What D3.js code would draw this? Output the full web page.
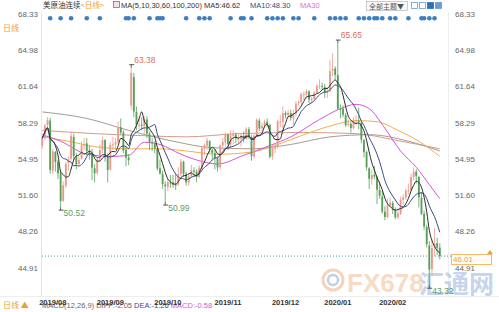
<!DOCTYPE html>
<html>
<head>
<meta charset="utf-8">
<script src="https://cdn.jsdelivr.net/npm/d3@7"></script>
<style>
  html, body { margin: 0; padding: 0; background: #fff; }
  svg { display: block; font-family: "Liberation Sans", Arial, "Noto Sans CJK SC", sans-serif; }
</style>
</head>
<body>
<div id="chart"></div>
<script>
// daily candles, 2019-07-29 .. 2020-03-05
const opens = [
  56.20, 56.90, 58.10, 58.50, 53.90, 55.60, 54.70, 53.70, 51.10, 52.50,
  54.60, 55.00, 57.00, 55.20, 54.50, 55.00, 56.20, 56.40, 55.70, 55.40,
  54.10, 53.70, 55.00, 55.80, 56.70, 55.20, 54.00, 56.30, 56.30, 56.50,
  57.90, 57.40, 55.80, 55.10, 59.90, 62.50, 59.30, 58.10, 58.10, 58.00,
  58.60, 57.30, 56.50, 56.40, 55.90, 54.10, 53.60, 52.60, 52.40, 52.80,
  52.80, 52.60, 52.60, 53.60, 54.70, 53.60, 52.80, 53.40, 53.90, 53.80,
  53.30, 54.10, 55.90, 56.20, 56.60, 55.80, 55.50, 55.00, 54.20, 56.20,
  56.50, 57.20, 56.30, 57.10, 57.20, 56.80, 56.80, 57.10, 56.80, 57.70,
  57.00, 55.20, 57.10, 58.50, 57.80, 58.00, 58.40, 58.10, 55.20, 55.90,
  56.10, 58.40, 58.40, 59.20, 59.00, 59.20, 58.70, 59.20, 60.10, 60.20,
  60.90, 60.90, 61.20, 60.40, 60.50, 61.10, 61.70, 61.70, 61.60, 61.10,
  61.20, 63.10, 63.30, 62.70, 59.60, 59.60, 59.00, 58.10, 58.20, 57.80,
  58.50, 58.50, 58.30, 56.70, 55.60, 54.10, 53.10, 53.50, 53.30, 52.10,
  51.50, 50.10, 49.60, 50.70, 50.90, 50.30, 49.60, 49.90, 51.20, 51.40,
  52.00, 52.10, 53.30, 53.80, 53.30, 51.40, 49.90, 48.70, 47.00, 44.80,
  46.80, 47.20, 46.80
];
const highs = [
  57.10, 58.20, 58.82, 58.76, 55.90, 55.70, 54.90, 54.00, 52.90, 54.70,
  55.20, 57.47, 57.30, 55.50, 55.20, 56.60, 56.90, 56.90, 56.20, 55.90,
  54.50, 55.10, 56.30, 57.00, 56.80, 55.50, 56.50, 57.00, 56.90, 58.40,
  58.70, 57.60, 56.20, 55.40, 63.38, 62.90, 59.80, 58.90, 58.80, 58.90,
  58.90, 57.50, 56.90, 56.60, 56.00, 54.90, 53.90, 52.90, 53.10, 53.50,
  53.50, 53.60, 54.20, 55.00, 54.80, 53.80, 53.60, 54.40, 54.20, 54.00,
  54.40, 56.10, 56.40, 56.90, 56.70, 55.90, 55.90, 55.20, 56.30, 56.90,
  57.40, 57.30, 57.60, 57.60, 57.40, 57.30, 57.30, 57.50, 57.90, 57.90,
  57.20, 57.30, 58.70, 58.70, 58.30, 58.60, 58.70, 58.20, 56.20, 56.40,
  58.60, 59.00, 59.80, 59.40, 59.50, 59.50, 59.50, 60.30, 60.40, 61.10,
  61.20, 61.40, 61.30, 60.70, 61.20, 61.90, 62.30, 62.00, 61.90, 61.60,
  64.09, 64.70, 63.50, 65.65, 60.00, 59.90, 59.20, 58.60, 58.40, 58.80,
  59.00, 59.70, 58.40, 56.80, 55.70, 54.20, 54.00, 54.30, 53.40, 52.90,
  52.00, 50.60, 51.30, 51.40, 51.10, 50.50, 50.30, 51.50, 51.70, 52.20,
  52.70, 53.60, 54.20, 54.00, 53.40, 51.90, 50.20, 48.90, 47.40, 47.50,
  48.60, 47.70, 47.20
];
const lows = [
  55.90, 56.70, 57.60, 53.60, 53.60, 53.80, 53.10, 50.52, 51.00, 52.30,
  53.90, 54.80, 54.90, 54.00, 54.30, 54.90, 55.80, 55.30, 54.90, 53.00,
  52.80, 53.50, 54.70, 55.50, 54.70, 52.80, 53.90, 55.80, 55.80, 56.30,
  57.20, 55.50, 54.30, 54.40, 59.50, 58.80, 57.60, 57.70, 57.60, 57.30,
  56.90, 55.80, 55.70, 55.50, 53.90, 53.50, 52.20, 50.99, 52.00, 52.30,
  52.30, 52.10, 52.50, 53.40, 53.30, 52.50, 52.50, 53.20, 53.40, 52.80,
  53.20, 54.00, 55.30, 55.80, 55.50, 54.90, 54.00, 53.80, 54.00, 56.00,
  56.10, 55.80, 55.90, 56.30, 56.40, 56.40, 56.10, 56.50, 56.70, 56.80,
  54.80, 55.00, 57.00, 57.50, 57.50, 57.80, 57.90, 55.00, 54.90, 55.50,
  55.90, 57.90, 57.80, 58.70, 58.70, 58.50, 58.10, 58.90, 59.80, 60.00,
  60.40, 60.60, 60.10, 60.10, 60.40, 61.00, 61.40, 61.40, 60.60, 60.60,
  61.10, 62.60, 62.30, 59.50, 58.70, 58.80, 57.90, 57.90, 57.40, 57.70,
  58.10, 57.70, 56.40, 55.10, 53.90, 52.20, 52.60, 53.10, 50.80, 51.30,
  49.90, 49.31, 49.50, 50.50, 49.90, 49.40, 49.40, 49.80, 50.70, 51.20,
  51.70, 52.00, 53.00, 52.70, 50.50, 49.80, 48.40, 46.80, 43.32, 44.20,
  46.00, 46.10, 45.70
];
const closes = [
  56.87, 58.05, 58.58, 53.95, 55.66, 54.69, 53.63, 51.09, 52.54, 54.50,
  54.93, 57.10, 55.23, 54.47, 54.87, 56.21, 56.34, 55.68, 55.35, 54.17,
  53.64, 54.93, 55.78, 56.71, 55.10, 53.94, 56.26, 56.30, 56.52, 57.85,
  57.40, 55.75, 55.09, 54.85, 62.90, 59.34, 58.11, 58.13, 58.09, 58.64,
  57.29, 56.49, 56.41, 55.91, 54.07, 53.62, 52.64, 52.45, 52.81, 52.75,
  52.63, 52.59, 53.55, 54.70, 53.59, 52.81, 53.36, 53.93, 53.78, 53.31,
  54.16, 55.97, 56.23, 56.66, 55.81, 55.54, 55.06, 54.18, 56.20, 56.54,
  57.23, 56.35, 57.15, 57.24, 56.86, 56.80, 57.12, 56.77, 57.72, 57.05,
  55.21, 57.11, 58.58, 57.77, 58.01, 58.41, 58.11, 55.17, 55.96, 56.10,
  58.43, 58.43, 59.20, 59.02, 59.24, 58.76, 59.18, 60.07, 60.21, 60.94,
  60.93, 61.22, 60.44, 60.52, 61.11, 61.68, 61.72, 61.68, 61.06, 61.18,
  63.05, 63.27, 62.70, 59.61, 59.56, 59.04, 58.08, 58.23, 57.81, 58.52,
  58.54, 58.38, 56.74, 55.59, 54.19, 53.14, 53.48, 53.33, 52.14, 51.56,
  50.11, 49.61, 50.75, 50.95, 50.32, 49.57, 49.94, 51.17, 51.42, 52.05,
  52.05, 53.29, 53.78, 53.38, 51.43, 49.90, 48.73, 47.09, 44.76, 46.75,
  47.18, 46.78, 46.01
];

// long moving averages (candle index, value)
const ma30Idx = [0, 7, 17, 26, 33, 39, 45, 53, 60, 67, 77, 87, 95, 106, 113, 120, 125, 131, 137, 143, 148, 152];
const ma30Val = [57.2, 56.6, 55.4, 55.2, 55.3, 56.5, 56.3, 55.4, 54.8, 54.5, 55.3, 56.2, 57.0, 58.6, 59.5, 60.0, 59.6, 57.8, 55.7, 54.2, 52.6, 51.3];
const ma60Idx = [0, 10, 20, 33, 45, 55, 67, 80, 90, 100, 110, 120, 128, 136, 144, 152];
const ma60Val = [57.0, 56.6, 56.1, 55.9, 55.9, 55.7, 55.4, 55.6, 56.3, 57.2, 58.0, 58.5, 58.4, 57.6, 56.6, 55.2];
const ma100Idx = [0, 17, 33, 50, 65, 80, 95, 110, 125, 140, 152];
const ma100Val = [59.3, 58.7, 57.6, 56.6, 56.0, 55.9, 56.3, 57.0, 57.2, 56.6, 55.7];
const ma200Idx = [0, 20, 40, 55, 75, 100, 120, 135, 152];
const ma200Val = [57.6, 57.3, 57.1, 57.0, 57.3, 57.4, 57.3, 56.7, 55.9];

const yTicks = [68.33, 64.98, 61.64, 58.29, 54.95, 51.60, 48.26, 44.91];
const monthLabels = ['2019/08', '2019/09', '2019/10', '2019/11', '2019/12', '2020/01', '2020/02'];
const monthIdx = [4, 26, 48, 71, 93, 113, 134];
const eventIdx = [3, 7, 11, 17, 22, 32, 33, 35, 41, 44, 45, 46, 55, 60, 62, 64, 72, 76, 77, 80, 86, 88, 90, 92, 96, 98, 104, 110, 112, 114, 116, 121, 123, 125, 127, 128, 130, 133, 135, 140, 145, 146, 148, 150];
const lastPrice = 46.01;

const colors = {
  up: '#e89a8c', down: '#58a058',
  ma5: '#2a2a2a', ma10: '#3b4a86', ma30: '#d456d4',
  ma60: '#f2b04c', ma100: '#a89a96', ma200: '#d29c88',
  axis: '#666', orange: '#f0a030'
};

const W = 499, H = 312;
const n = closes.length;
const svg = d3.select('#chart').append('svg').attr('width', W).attr('height', H);

const x = d3.scaleBand().domain(d3.range(n)).range([41.4, 440.7]).paddingInner(0.3);
const xc = i => x(i) + x.bandwidth() / 2;
const y = d3.scaleLinear().domain([44.91, 68.33]).range([268, 14]);

// frame lines
svg.append('line').attr('x1', 41.5).attr('x2', 41.5).attr('y1', 12).attr('y2', 296).attr('stroke', '#e6e6e6');
svg.append('line').attr('x1', 448.5).attr('x2', 448.5).attr('y1', 12).attr('y2', 296).attr('stroke', '#eeeeee');
svg.append('line').attr('x1', 0).attr('x2', W).attr('y1', 296.5).attr('y2', 296.5).attr('stroke', '#eeeeee');

// watermark
const wm = svg.append('g').attr('opacity', 0.75);
wm.append('circle').attr('cx', 333).attr('cy', 280).attr('r', 10).attr('fill', 'none').attr('stroke', '#f3c6a6').attr('stroke-width', 3);
wm.append('circle').attr('cx', 333).attr('cy', 280).attr('r', 5).attr('fill', 'none').attr('stroke', '#a9c2e2').attr('stroke-width', 2.5);
wm.append('text').attr('x', 347).attr('y', 292).attr('font-size', 26).attr('font-weight', 'bold')
  .attr('fill', '#f6cfb2').text('FX678');
wm.append('text').attr('x', 419).attr('y', 293).attr('font-size', 25).attr('font-weight', 'bold')
  .attr('font-family', '"Noto Sans CJK SC", sans-serif').attr('fill', '#b3c8e6').text('汇通网');

// y axis labels both sides
svg.append('g').selectAll('text').data(yTicks).join('text')
  .attr('x', 38).attr('y', d => y(d)).attr('dy', '0.35em').attr('text-anchor', 'end')
  .attr('font-size', 8).attr('fill', colors.axis).text(d => d.toFixed(2));
svg.append('g').selectAll('text').data(yTicks).join('text')
  .attr('x', 455).attr('y', d => y(d)).attr('dy', '0.35em')
  .attr('font-size', 8).attr('fill', colors.axis).text(d => d.toFixed(2));

// last price line + box
svg.append('line').attr('x1', 42).attr('x2', 452).attr('y1', y(lastPrice)).attr('y2', y(lastPrice))
  .attr('stroke', '#3b9a9a').attr('stroke-dasharray', '1,2');
svg.append('rect').attr('x', 451.5).attr('y', y(lastPrice) - 1.5).attr('width', 40).attr('height', 10)
  .attr('fill', '#fffdf3').attr('stroke', '#f2b860');
svg.append('text').attr('x', 453).attr('y', y(lastPrice) + 3.5).attr('dy', '0.35em')
  .attr('font-size', 8).attr('fill', '#e8a04a').text(lastPrice.toFixed(2));
svg.append('path').attr('d', `M487,${y(lastPrice) - 2} l3,-4 l3,4 z`).attr('fill', '#f0a030');

// long MAs
const longLine = d3.line().x(d => xc(d[0])).y(d => y(d[1])).curve(d3.curveMonotoneX);
[[ma200Idx, ma200Val, colors.ma200], [ma100Idx, ma100Val, colors.ma100],
 [ma60Idx, ma60Val, colors.ma60], [ma30Idx, ma30Val, colors.ma30]].forEach(([ix, vs, c]) => {
  svg.append('path').datum(d3.zip(ix, vs)).attr('d', longLine)
    .attr('fill', 'none').attr('stroke', c).attr('stroke-width', 1);
});

// candles
const candles = svg.append('g');
d3.range(n).forEach(i => {
  const up = closes[i] >= opens[i];
  const c = up ? colors.up : colors.down;
  candles.append('line').attr('x1', xc(i)).attr('x2', xc(i))
    .attr('y1', y(highs[i])).attr('y2', y(lows[i])).attr('stroke', c).attr('stroke-width', 0.8);
  const bodyTop = y(Math.max(opens[i], closes[i]));
  const h = Math.max(1, Math.abs(y(opens[i]) - y(closes[i])));
  candles.append('rect').attr('x', x(i)).attr('y', bodyTop).attr('width', x.bandwidth()).attr('height', h).attr('fill', c);
});

// short MAs from closes
function movingAvg (arr, k) {
  return arr.map((v, i) => d3.mean(arr.slice(Math.max(0, i - k + 1), i + 1)));
}
const shortLine = d3.line().x((d, i) => xc(i)).y(d => y(d)).curve(d3.curveMonotoneX);
svg.append('path').datum(movingAvg(closes, 10)).attr('d', shortLine)
  .attr('fill', 'none').attr('stroke', colors.ma10).attr('stroke-width', 1);
svg.append('path').datum(movingAvg(closes, 5)).attr('d', shortLine)
  .attr('fill', 'none').attr('stroke', colors.ma5).attr('stroke-width', 1);

// extreme markers
function markHigh (i, v) {
  const px = xc(i), py = y(v);
  svg.append('path').attr('d', `M${px},${py} V${py - 3} M${px - 2},${py - 3} H${px + 3}`)
    .attr('stroke', '#333').attr('stroke-width', 0.8).attr('fill', 'none');
  svg.append('text').attr('x', px + 3).attr('y', py - 5).attr('font-size', 8.5).attr('fill', '#de6f5e').text(v.toFixed(2));
}
function markLow (i, v) {
  const px = xc(i), py = y(v);
  svg.append('path').attr('d', `M${px},${py} V${py + 3} M${px - 2},${py + 3} H${px + 3}`)
    .attr('stroke', '#333').attr('stroke-width', 0.8).attr('fill', 'none');
  svg.append('text').attr('x', px + 3).attr('y', py + 9).attr('font-size', 8.5).attr('fill', '#5d9e5d').text(v.toFixed(2));
}
markHigh(34, highs[34]);
markHigh(113, highs[113]);
markLow(7, lows[7]);
markLow(47, lows[47]);
markLow(148, lows[148]);

// event dots
svg.append('g').selectAll('circle').data(eventIdx).join('circle')
  .attr('cx', d => xc(d)).attr('cy', 18.3).attr('r', 2.3).attr('fill', '#3d7fc1');

// top legend
const titleText = svg.append('text').attr('x', 43).attr('y', 8).attr('font-size', 7.5).attr('fill', '#333');
titleText.append('tspan').attr('font-family', '"Noto Sans CJK SC", sans-serif').text('美原油连续');
titleText.append('tspan').attr('fill', colors.orange).attr('font-family', '"Noto Sans CJK SC", sans-serif').text('<日线>');
svg.append('rect').attr('x', 113.5).attr('y', 1.5).attr('width', 6).attr('height', 6)
  .attr('fill', '#f4e0ea').attr('stroke', '#8a6b9a').attr('stroke-width', 0.8);
svg.append('text').attr('x', 121).attr('y', 8).attr('font-size', 7.5).attr('fill', '#333')
  .text('MA(5,10,30,60,100,200) MA5:46.62');
svg.append('text').attr('x', 250).attr('y', 8).attr('font-size', 7.5).attr('fill', colors.ma10).text('MA10:48.30');
svg.append('text').attr('x', 300).attr('y', 8).attr('font-size', 7.5).attr('fill', '#d770d7').text('MA30');

// top-right controls
svg.append('rect').attr('x', 366.5).attr('y', 1.5).attr('width', 41).attr('height', 9)
  .attr('fill', '#fafafa').attr('stroke', '#aaa').attr('stroke-width', 0.6);
svg.append('text').attr('x', 369).attr('y', 8.8).attr('font-size', 7).attr('fill', '#555')
  .attr('font-family', '"Noto Sans CJK SC", sans-serif').text('全部主题▼');
[[411, '#fff', '#6b9ccf'], [419, '#fff', '#6b9ccf'], [427, '#2f6fb8', '#2f6fb8'], [435, '#6b9ccf', '#6b9ccf']].forEach(([bx, f, s]) => {
  svg.append('rect').attr('x', bx + 0.5).attr('y', 2.5).attr('width', 6).attr('height', 6)
    .attr('fill', f).attr('stroke', s).attr('stroke-width', 0.8);
});

// side labels
svg.append('text').attr('x', 3).attr('y', 31).attr('font-size', 8).attr('fill', colors.orange)
  .attr('font-family', '"Noto Sans CJK SC", sans-serif').text('日线');
svg.append('text').attr('x', 3).attr('y', 308).attr('font-size', 8).attr('fill', colors.orange)
  .attr('font-family', '"Noto Sans CJK SC", sans-serif').text('日线 ▲');
const macd = svg.append('text').attr('x', 42).attr('y', 308).attr('font-size', 7.5).attr('fill', '#666');
macd.append('tspan').text('MACD(12,26,9) DIFF:-2.05 ');
macd.append('tspan').attr('fill', '#3b4a86').text('DEA:-1.26 ');
macd.append('tspan').attr('fill', '#d05ad0').text('MACD:-0.58');

// month axis
svg.append('g').selectAll('text').data(monthIdx).join('text')
  .attr('x', d => xc(d)).attr('y', 305).attr('text-anchor', 'middle')
  .attr('font-size', 7.5).attr('font-weight', 'bold').attr('fill', '#333')
  .text((d, i) => monthLabels[i]);
</script>
</body>
</html>
